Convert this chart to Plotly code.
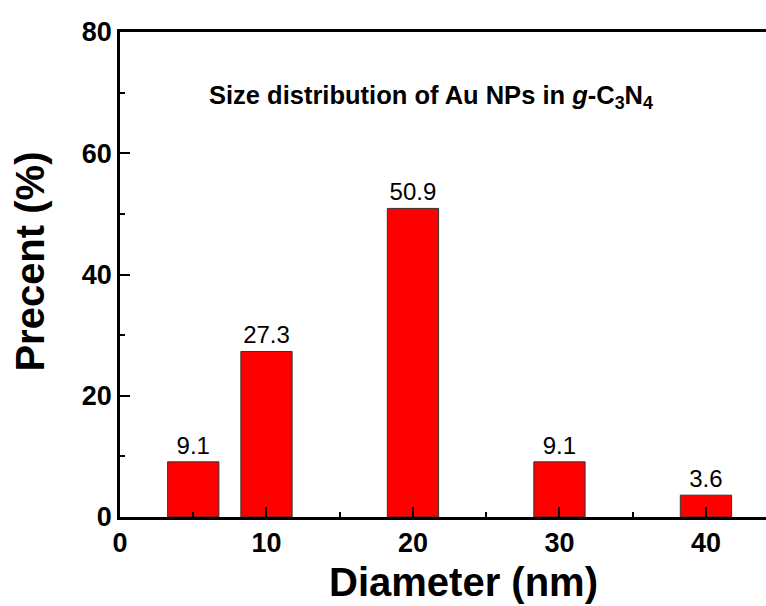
import plotly.graph_objects as go

diameters = [5, 10, 20, 30, 40]
percent = [9.1, 27.3, 50.9, 9.1, 3.6]
labels = ["9.1", "27.3", "50.9", "9.1", "3.6"]
x_ticks = [0, 10, 20, 30, 40]
y_ticks = [0, 20, 40, 60, 80]

FONT = "Liberation Sans"

fig = go.Figure()
fig.add_trace(go.Bar(
    x=diameters, y=percent, width=3.5,
    marker=dict(color="#ff0000", line=dict(color="#333333", width=1)),
    text=labels, textposition="outside", cliponaxis=False,
    textfont=dict(family=FONT, size=24, color="black"),
))

axis_common = dict(
    showline=True, linecolor="black", linewidth=2.5,
    ticks="inside", tickcolor="black", tickwidth=2, showgrid=False, zeroline=False,
    tickfont=dict(family=FONT, size=27, color="black", weight="bold"),
    automargin=False,
)
fig.update_xaxes(
    range=[0, 44.1], tickvals=x_ticks, ticklen=10, mirror=True,
    minor=dict(ticks="inside", ticklen=5, dtick=5, tickcolor="black", tickwidth=2),
    **axis_common,
)
fig.update_yaxes(
    range=[0, 80], tickvals=y_ticks, ticklen=10, mirror=False,
    minor=dict(ticks="inside", ticklen=5, dtick=10, tickcolor="black", tickwidth=2),
    **axis_common,
)
fig.update_layout(
    width=766, height=606,
    margin=dict(l=120, r=0, t=32, b=89),
    plot_bgcolor="white", paper_bgcolor="white",
    showlegend=False,
    font=dict(family=FONT, color="black"),
)
# axis titles
fig.add_annotation(
    x=0.531, y=-0.1835, xref="paper", yref="paper", showarrow=False,
    xanchor="center", yanchor="bottom",
    text="Diameter (nm)",
    font=dict(family=FONT, size=40, color="black", weight="bold"),
)
fig.add_annotation(
    x=-0.139, y=0.527, xref="paper", yref="paper", showarrow=False,
    xanchor="center", yanchor="middle", textangle=-90,
    text="Precent (%)",
    font=dict(family=FONT, size=40, color="black", weight="bold"),
)
fig.add_annotation(
    x=0.482, y=0.903, xref="paper", yref="paper", showarrow=False,
    xanchor="center", yanchor="top",
    text="Size distribution of Au NPs in <i>g</i>-C<sub>3</sub>N<sub>4</sub>",
    font=dict(family=FONT, size=25.5, color="black", weight="bold"),
)
fig.write_html(
    "out.html",
    config={"displayModeBar": False},
    post_script="document.body.style.margin='0';document.body.style.overflow='hidden';",
)
